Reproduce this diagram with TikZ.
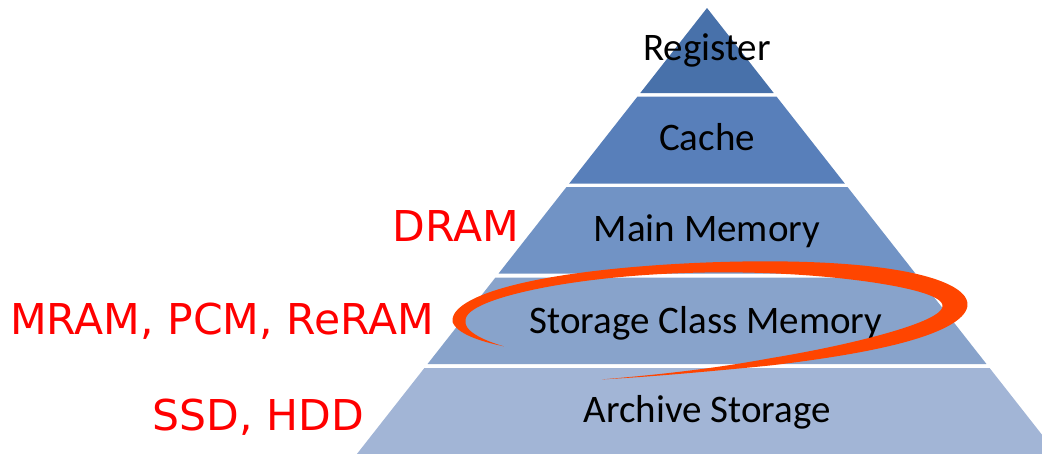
\documentclass[tikz,border=0pt]{standalone}
\usepackage{fontspec}
\setmainfont{Carlito}
\newfontfamily\redfont{DejaVu Sans}
\definecolor{regcol}{RGB}{72,113,170}
\definecolor{cachecol}{RGB}{88,127,186}
\definecolor{maincol}{RGB}{113,147,197}
\definecolor{scmcol}{RGB}{136,163,203}
\definecolor{archcol}{RGB}{162,181,214}
\definecolor{swoosh}{RGB}{255,69,0}
\definecolor{labred}{RGB}{255,0,0}
\tikzset{
  layertext/.style={font=\fontsize{39}{42}\selectfont, text=black, anchor=base, inner sep=0pt},
  techlabel/.style={font=\redfont\fontsize{42.5}{46}\selectfont, text=labred, anchor=base east, inner sep=0pt},
  declare function={
    tt(\u)=215-330*\u;
    tap(\u)=min(1,\u/0.1)*min(1,(1-\u)/0.12);
    ww(\u)=(13.25+6*cos(tt(\u))+5.75*cos(2*tt(\u))+2.5*sin(tt(\u)))*tap(\u);
    ryy(\u)=47+10*\u*\u*\u;
    tlt(\u)=0.0215+0.1*\u*\u*\u*\u;
    exo(\u)=(248+ww(\u)/2)*cos(tt(\u));
    eyo(\u)=-(ryy(\u)+ww(\u)/2)*sin(tt(\u));
    exi(\u)=(248-ww(\u)/2)*cos(tt(\u));
    eyi(\u)=-(ryy(\u)-ww(\u)/2)*sin(tt(\u));
  }
}
\newcommand{\kk}{0.785}
\newcommand{\band}[3]{%
  \fill[#1] ({707-\kk*(#2-8)},#2) -- ({707+\kk*(#2-8)},#2) -- ({707+\kk*(#3-8)},#3) -- ({707-\kk*(#3-8)},#3) -- cycle;}
\begin{document}
\begin{tikzpicture}[x=1pt,y=-1pt]
\useasboundingbox (0,0) rectangle (1042,453);
\begin{scope}
\clip (0,0) rectangle (1042,453);
\fill[regcol] (707,8) -- ({707+\kk*85},93) -- ({707-\kk*85},93) -- cycle;
\band{cachecol}{96.5}{183.5}
\band{maincol}{187}{273.5}
\band{scmcol}{277.5}{364}
\band{archcol}{368}{470}
\end{scope}
\node[layertext] (reg) at (707,60) {Register};
\node[layertext] (cache) at (707,150) {Cache};
\node[layertext] (main) at (707,241) {Main Memory};
\node[layertext] (scm) at (706,333) {Storage Class Memory};
\node[layertext] (arch) at (707,422) {Archive Storage};
\node[techlabel] (dram) at (519,241) {DRAM};
\node[techlabel] (nvm) at (434,334) {MRAM, PCM, ReRAM};
\node[techlabel] (disk) at (364,430) {SSD, HDD};
\fill[swoosh] plot[domain=0:1, samples=240, variable=\s] ({707+exo(\s)},{315+eyo(\s)-tlt(\s)*exo(\s)})
  -- plot[domain=1:0, samples=240, variable=\s] ({707+exi(\s)},{315+eyi(\s)-tlt(\s)*exi(\s)}) -- cycle;
\end{tikzpicture}
\end{document}
